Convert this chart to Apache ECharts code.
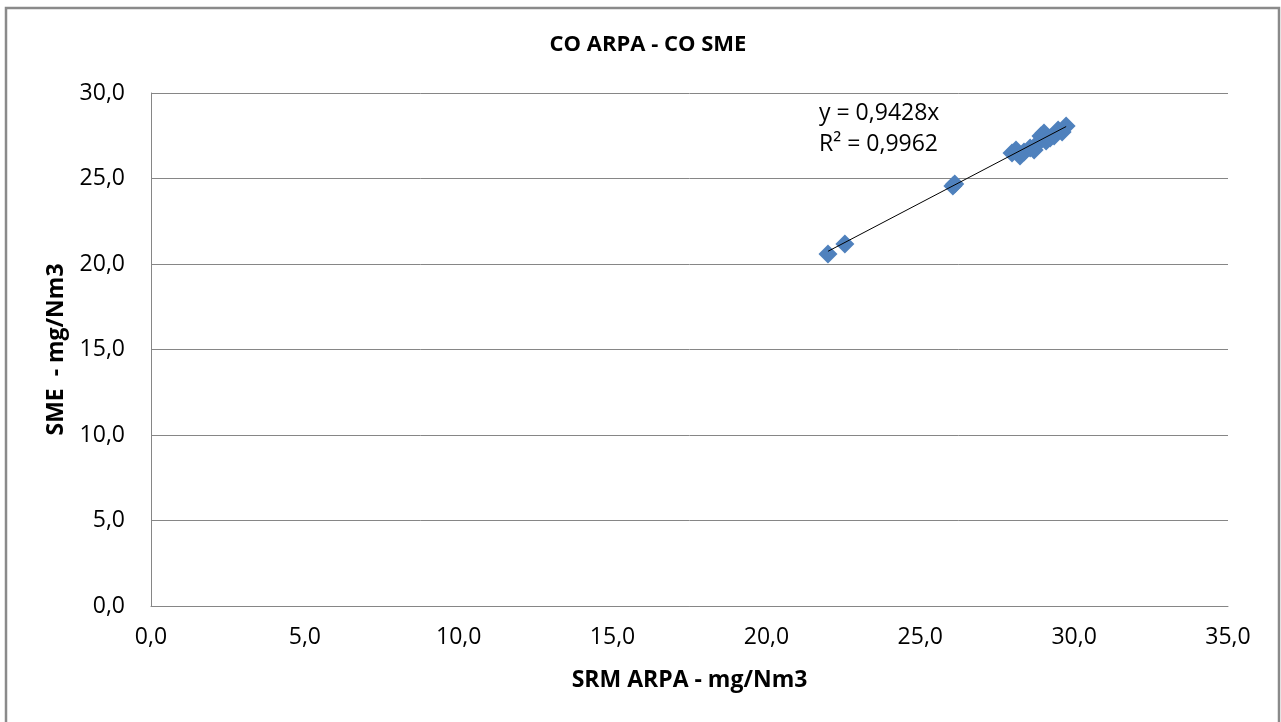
<!DOCTYPE html>
<html>
<head>
<meta charset="utf-8">
<script src="https://cdn.jsdelivr.net/npm/echarts@6/dist/echarts.min.js"></script>
<style>
html,body{margin:0;padding:0;background:#fff;}
#chart{width:1281px;height:722px;}
</style>
</head>
<body>
<div id="chart"></div>
<script>
// Data (x = SRM ARPA, y = SME), mg/Nm3
var srmArpa = [22.0, 22.55, 26.06, 26.12, 27.98, 28.11, 28.24, 28.37, 28.57, 28.70, 28.83, 28.92, 29.02, 29.09, 29.22, 29.35, 29.48, 29.61, 29.74];
var sme     = [20.58, 21.17, 24.56, 24.68, 26.49, 26.67, 26.32, 26.55, 26.78, 26.67, 27.08, 27.49, 27.66, 27.19, 27.37, 27.49, 27.84, 27.72, 28.07];
var slope = 0.9428;
var r2 = 0.9962;
var xTicks = [0, 5, 10, 15, 20, 25, 30, 35];
var yTicks = [0, 5, 10, 15, 20, 25, 30];

var points = srmArpa.map(function (x, i) { return [x, sme[i]]; });
var xMin = Math.min.apply(null, srmArpa), xMax = Math.max.apply(null, srmArpa);
var trend = [[xMin, slope * xMin], [xMax, slope * xMax]];
function fmt(v) { return v.toFixed(1).replace('.', ','); }
var FONT = 'Open Sans';

var chart = echarts.init(document.getElementById('chart'), null, {renderer: 'canvas'});
chart.setOption({
  animation: false,
  backgroundColor: '#fff',
  textStyle: {fontFamily: FONT},
  title: {
    text: 'CO ARPA - CO SME',
    left: 643, top: 29, textAlign: 'center',
    textStyle: {fontFamily: FONT, fontWeight: 'bold', fontSize: 22, color: '#000'}
  },
  grid: {left: 151, top: 93, right: 53, bottom: 116, containLabel: false},
  xAxis: {
    type: 'value', min: xTicks[0], max: xTicks[xTicks.length - 1], interval: 5,
    name: 'SRM ARPA - mg/Nm3', nameLocation: 'middle', nameGap: 63,
    nameTextStyle: {fontFamily: FONT, fontWeight: 'bold', fontSize: 23, color: '#000'},
    axisLine: {show: true, lineStyle: {color: '#868686', width: 1}},
    axisTick: {show: false},
    splitLine: {show: false},
    axisLabel: {formatter: fmt, fontFamily: FONT, fontSize: 23, color: '#000', margin: 20}
  },
  yAxis: {
    type: 'value', min: yTicks[0], max: yTicks[yTicks.length - 1], interval: 5,
    name: 'SME  - mg/Nm3', nameLocation: 'middle', nameGap: 83, nameRotate: 90,
    nameTextStyle: {fontFamily: FONT, fontWeight: 'bold', fontSize: 23, color: '#000'},
    axisLine: {show: true, lineStyle: {color: '#868686', width: 1}},
    axisTick: {show: false},
    splitLine: {show: true, lineStyle: {color: '#868686', width: 1}},
    axisLabel: {formatter: fmt, fontFamily: FONT, fontSize: 23, color: '#000', margin: 26}
  },
  graphic: [
    {type: 'rect', shape: {x: 6, y: 8, width: 1273, height: 730},
     style: {fill: 'none', stroke: '#8a8a8a', lineWidth: 2.5}, silent: true, z: 100},
    {type: 'text', left: 819, top: 98,
     style: {text: 'y = ' + String(slope).replace('.', ',') + 'x\nR² = ' + String(r2).replace('.', ','),
             font: '23px "' + FONT + '"', fill: '#000', lineHeight: 31}, z: 50}
  ],
  series: [
    {
      type: 'scatter', data: points, symbol: 'diamond', symbolSize: 19,
      itemStyle: {color: '#4F81BD', opacity: 1}, z: 2
    },
    {
      type: 'line', data: trend, symbol: 'none', z: 3,
      lineStyle: {color: '#000', width: 1}
    }
  ]
});
</script>
</body>
</html>
